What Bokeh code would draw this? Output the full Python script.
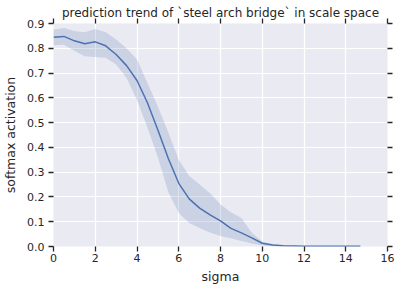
from bokeh.plotting import figure
from bokeh.models import LinearAxis, FixedTicker, PrintfTickFormatter, Range1d
from bokeh.embed import file_html
from bokeh.resources import INLINE

title_text = "prediction trend of `steel arch bridge` in scale space"
x_label = "sigma"
y_label = "softmax activation"

sigma = [0.0, 0.5, 1.0, 1.5, 2.0, 2.5, 3.0, 3.5, 4.0, 4.5, 5.0, 5.5, 6.0, 6.5,
         7.0, 7.5, 8.0, 8.5, 9.0, 9.5, 10.0, 10.5, 11.0, 11.5, 12.0, 13.0, 14.0, 14.7]
mean_act = [0.845, 0.848, 0.830, 0.818, 0.826, 0.810, 0.775, 0.730, 0.670, 0.580,
            0.470, 0.355, 0.255, 0.192, 0.155, 0.128, 0.103, 0.073, 0.055, 0.035,
            0.013, 0.006, 0.003, 0.002, 0.001, 0.001, 0.001, 0.001]
upper_act = [0.875, 0.882, 0.870, 0.865, 0.878, 0.865, 0.835, 0.800, 0.755, 0.660,
             0.565, 0.460, 0.350, 0.285, 0.250, 0.215, 0.170, 0.138, 0.115, 0.055,
             0.020, 0.009, 0.005, 0.003, 0.002, 0.002, 0.002, 0.002]
lower_act = [0.812, 0.814, 0.790, 0.768, 0.765, 0.762, 0.735, 0.680, 0.590, 0.480,
             0.360, 0.220, 0.135, 0.095, 0.075, 0.056, 0.042, 0.033, 0.022, 0.012,
             0.004, 0.001, 0.000, 0.000, 0.000, 0.000, 0.000, 0.000]

x_ticks = [0, 2, 4, 6, 8, 10, 12, 14, 16]
y_ticks = [0.0, 0.1, 0.2, 0.3, 0.4, 0.5, 0.6, 0.7, 0.8, 0.9]

FONT = "DejaVu Sans"
TXT = "#262626"
BLUE = "#4C72B0"

p = figure(width=401, height=291, output_backend="svg", toolbar_location=None,
           x_range=Range1d(0, 16), y_range=Range1d(0, 0.9),
           min_border_left=53, min_border_right=14, min_border_top=23, min_border_bottom=45)
p.background_fill_color = "#EAEAF2"
p.border_fill_color = "white"
p.outline_line_color = None

p.xgrid.grid_line_color = "white"
p.ygrid.grid_line_color = "white"
p.xgrid.grid_line_width = 1.2
p.ygrid.grid_line_width = 1.2
p.xgrid.ticker = FixedTicker(ticks=x_ticks)
p.ygrid.ticker = FixedTicker(ticks=y_ticks)

p.varea(x=sigma, y1=lower_act, y2=upper_act, fill_color=BLUE, fill_alpha=0.2)
p.line(x=sigma, y=mean_act, line_color=BLUE, line_width=1.5)

def style(ax):
    ax.axis_line_color = None
    ax.major_tick_line_color = TXT
    ax.major_tick_line_width = 1.3
    ax.major_tick_out = 5
    ax.major_tick_in = 0
    ax.minor_tick_line_color = None
    ax.major_label_text_font = FONT
    ax.major_label_text_color = TXT
    ax.major_label_text_font_size = "11px"
    ax.axis_label_text_font = FONT
    ax.axis_label_text_color = TXT
    ax.axis_label_text_font_size = "12.5px"
    ax.axis_label_text_font_style = "normal"

xa = p.xaxis[0]
ya = p.yaxis[0]
xa.ticker = FixedTicker(ticks=x_ticks)
ya.ticker = FixedTicker(ticks=y_ticks)
ya.formatter = PrintfTickFormatter(format="%.1f")
style(xa)
style(ya)
xa.axis_label = x_label
ya.axis_label = y_label
xa.major_label_standoff = 2
ya.major_label_standoff = 4
xa.axis_label_standoff = 4
ya.axis_label_standoff = 6

top = LinearAxis(ticker=FixedTicker(ticks=x_ticks),
                 major_label_overrides={t: " " for t in x_ticks})
style(top)
top.major_label_text_font_size = "1px"
top.major_label_standoff = 0
top.axis_label = title_text
top.axis_label_text_font_size = "12px"
top.axis_label_standoff = -6
p.add_layout(top, "above")

right = LinearAxis(ticker=FixedTicker(ticks=y_ticks),
                   major_label_overrides={t: " " for t in y_ticks})
style(right)
right.major_label_text_font_size = "1px"
right.major_label_standoff = 0
p.add_layout(right, "right")

open("out.html", "w").write(file_html(p, INLINE))
